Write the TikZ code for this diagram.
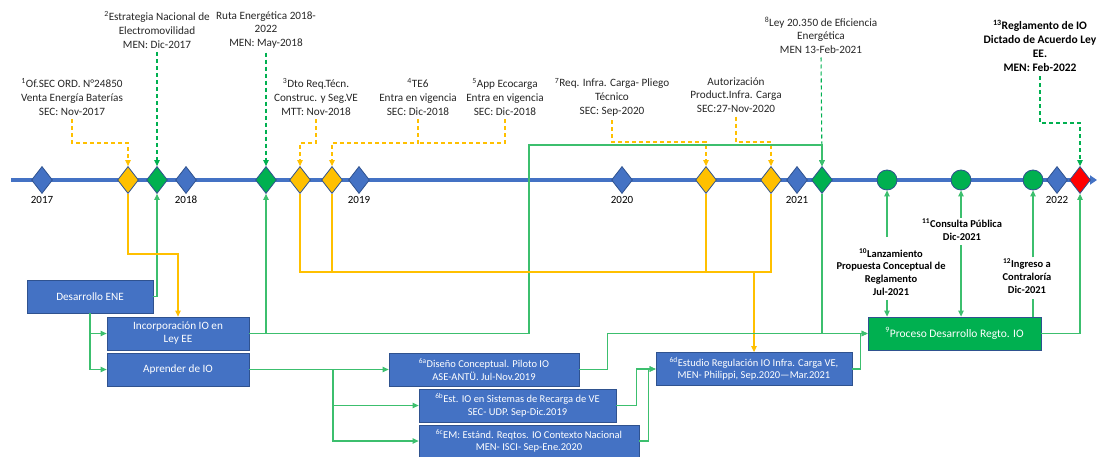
\documentclass[tikz,border=0pt]{standalone}
\usepackage{fontspec}
\setmainfont{Carlito}
\usetikzlibrary{arrows.meta, shapes.geometric}

\definecolor{tlblue}{HTML}{4472C4}
\definecolor{edgeblue}{HTML}{2F528F}
\definecolor{hitgold}{HTML}{FFC000}
\definecolor{hitgreen}{HTML}{00B050}
\definecolor{linkgreen}{HTML}{3CBF6E}
\definecolor{hitred}{HTML}{FF0000}

\tikzset{
  hito/.style={diamond, draw=edgeblue, line width=0.8pt, inner sep=0pt, minimum width=21pt, minimum height=27pt},
  ronda/.style={circle, draw=edgeblue, fill=hitgreen, line width=0.8pt, inner sep=0pt, minimum size=20pt},
  caja/.style={draw=edgeblue, fill=tlblue, text=white, line width=0.8pt, align=center, inner sep=1pt, minimum height=33pt, font=\fontsize{10.5}{12.5}\selectfont},
  nota/.style={align=center, text=black!85, font=\fontsize{11.2}{13.6}\selectfont, inner sep=1pt},
  notab/.style={align=center, text=black, font=\bfseries\fontsize{10.5}{12.9}\selectfont, inner sep=1pt},
  anio/.style={font=\fontsize{11}{13}\selectfont},
  gline/.style={linkgreen, line width=1.1pt},
  yline/.style={hitgold, line width=1.1pt},
  flecha/.style={-{Triangle[length=6pt,width=5.5pt]}},
  punteo/.style={dash pattern=on 4pt off 3pt, line width=1.1pt, shorten <=3pt},
}

\begin{document}
\begin{tikzpicture}[x=1pt, y=-1pt, line cap=butt, line join=miter]
    \useasboundingbox (0,0) rectangle (1099,457);

    % Boxes
    \node[caja, minimum width=126pt, font=\fontsize{11.2}{13}\selectfont] (ene) at (90,296.5) {Desarrollo ENE};
    \node[caja, minimum width=142pt, font=\fontsize{11.2}{13}\selectfont] (inc) at (178,333.5) {Incorporación IO en\\Ley EE};
    \node[caja, minimum width=142pt, font=\fontsize{11.2}{13}\selectfont] (apr) at (178,369.5) {Aprender de IO};
    \node[caja, minimum width=190pt] (d6a) at (484,369.5) {\textsuperscript{6a}Diseño Conceptual. Piloto IO\\ASE-ANTÜ. Jul-Nov.2019};
    \node[caja, minimum width=197pt] (d6b) at (517.5,405.5) {\textsuperscript{6b}Est. IO en Sistemas de Recarga de VE\\SEC- UDP. Sep-Dic.2019};
    \node[caja, minimum width=220pt, minimum height=32pt] (d6c) at (529,441) {\textsuperscript{6c}EM: Estánd. Reqtos. IO Contexto Nacional\\MEN- ISCI- Sep-Ene.2020};
    \node[caja, minimum width=196pt] (d6d) at (754,369) {\textsuperscript{6d}Estudio Regulación IO Infra. Carga VE,\\MEN- Philippi, Sep.2020—Mar.2021};
    \node[caja, fill=hitgreen, minimum width=173pt, font=\fontsize{11.5}{13}\selectfont] (pr) at (954.5,333.5) {\textsuperscript{9}Proceso Desarrollo Regto. IO};

    % Labels
    \node[nota] (n1) at (72,97) {\textsuperscript{1}Of.SEC ORD. N°24850\\Venta Energía Baterías\\SEC: Nov-2017};
    \node[nota] (n2) at (157,30) {\textsuperscript{2}Estrategia Nacional de\\Electromovilidad\\MEN: Dic-2017};
    \node[nota] (nr) at (266,30) {Ruta Energética 2018-\\2022\\MEN: May-2018};
    \node[nota] (n3) at (316,97) {\textsuperscript{3}Dto Req.Técn.\\Construc. y Seg.VE\\MTT: Nov-2018};
    \node[nota] (n4) at (418,97) {\textsuperscript{4}TE6\\Entra en vigencia\\SEC: Dic-2018};
    \node[nota] (n5) at (505,97) {\textsuperscript{5}App Ecocarga\\Entra en vigencia\\SEC: Dic-2018};
    \node[nota] (n7) at (612,97) {\textsuperscript{7}Req. Infra. Carga- Pliego\\Técnico\\SEC: Sep-2020};
    \node[nota] (na) at (736,95) {Autorización\\Product.Infra. Carga\\SEC:27-Nov-2020};
    \node[nota] (n8) at (821,35) {\textsuperscript{8}Ley 20.350 de Eficiencia\\Energética\\MEN 13-Feb-2021};
    \node[notab, font=\bfseries\fontsize{11.5}{14}\selectfont] (n13) at (1040,46) {\textsuperscript{13}Reglamento de IO\\Dictado de Acuerdo Ley\\EE.\\MEN: Feb-2022};
    \node[notab] (n10) at (891,272) {\textsuperscript{10}Lanzamiento\\Propuesta Conceptual de\\Reglamento\\Jul-2021};
    \node[notab] (n11) at (962,230) {\textsuperscript{11}Consulta Pública\\Dic-2021};
    \node[notab] (n12) at (1027,276) {\textsuperscript{12}Ingreso a\\Contraloría\\Dic-2021};

    % Timeline
    \draw[tlblue, line width=3pt, -{Triangle[length=7pt,width=9pt]}] (11,180) -- (1097,180);
    \foreach \nm/\xx/\col in {m17/42/tlblue, h1/128/hitgold, h2/157/hitgreen, m18/186/tlblue, hr/266/hitgreen,
        h3/300/hitgold, h4/332/hitgold, m19/359/tlblue, m20/622/tlblue, h7/706/hitgold, ha/771/hitgold,
        m21/797/tlblue, h8/822/hitgreen, m22/1057/tlblue, h13/1080/hitred} {
            \node[hito, fill=\col] (\nm) at (\xx,180) {};
        }
    \foreach \nm/\xx in {h10/887, h11/961, h12/1033} {
            \node[ronda] (\nm) at (\xx,180) {};
        }
    \foreach \yy/\xx in {2017/42, 2018/186, 2019/359, 2020/622, 2021/797, 2022/1057} {
            \node[anio] (a\yy) at (\xx,200) {\yy};
        }

    % Dashed hints
    \draw[yline, punteo, flecha] (n1.south) -- (n1 |- 0,143) -| (h1.north);
    \draw[hitgreen, punteo, flecha] (n2.south) -- (h2.north);
    \draw[hitgreen, punteo, flecha] (nr.south) -- (hr.north);
    \draw[yline, punteo, flecha] (n3.south) -- (n3 |- 0,143) -| (h3.north);
    \draw[yline, punteo, flecha] (n4.south) -- (n4 |- 0,143) -| (h4.north);
    \draw[yline, punteo] (n5.south) |- (n4 |- 0,143);
    \draw[yline, punteo, flecha] (n7.south) -- (n7 |- 0,142) -| (h7.north);
    \draw[yline, punteo, flecha] (na.south) -- (na |- 0,142) -| (ha.north);
    \draw[hitgreen, punteo, flecha] (n8.south) -- (h8.north);
    \draw[hitgreen, punteo, flecha] (n13.south) -- (n13 |- 0,123) -| (h13.north);

    % Edges
    \draw[gline, flecha] (ene.east) -| (h2.south);
    \draw[gline, flecha] (ene.south) |- (inc.west);
    \draw[gline, flecha] (ene.south) |- (apr.west);
    \draw[yline, flecha] (h1.south) -- (h1 |- 0,254) -| (inc.north);
    \draw[gline, flecha] (inc.east) -| (hr.south);
    \draw[gline, flecha] (inc.east) -| (529,145) -| (h8.north);
    \draw[yline] (h3.south) |- (ha |- 0,272) -- (ha.south);
    \draw[yline] (h4.south) -- (h4 |- 0,272);
    \draw[yline] (h7.south) -- (h7 |- 0,272);
    \draw[yline, flecha] (d6d |- 0,272) -- (d6d.north);
    \draw[gline, flecha] (apr.east) -- (d6a.west);
    \draw[gline, flecha] (333,369.5) |- (d6b.west);
    \draw[gline, flecha] (333,369.5) |- (d6c.west);
    \draw[gline, flecha] (d6a.east) -- ++(28,0) |- (pr.west);
    \draw[gline] (h8.south) -- (h8 |- pr.west);
    \draw[gline, flecha] (d6b.east) -- ++(20,0) |- (d6d.west);
    \draw[gline, flecha] (d6c.east) -- ++(9,0) |- (d6d.west);
    \draw[gline, flecha] (d6d.east) -- ++(8,0) |- (pr.west);
    \draw[gline, flecha] (pr.east) -| (h13.south);
    \draw[gline, flecha, shorten <=10pt] (h10 |- n10.north) -- (h10.south);
    \draw[gline, flecha, shorten <=3pt] (h10 |- n10.south) -- (h10 |- pr.north);
    \draw[gline, flecha] (h11 |- n11.north) -- (h11.south);
    \draw[gline, flecha, shorten <=3pt] (h11 |- n11.south) -- (h11 |- pr.north);
    \draw[gline, flecha] (h12 |- n12.north) -- (h12.south);
    \draw[gline, shorten >=4pt] (h12 |- pr.north) -- (h12 |- n12.south);
\end{tikzpicture}
\end{document}
